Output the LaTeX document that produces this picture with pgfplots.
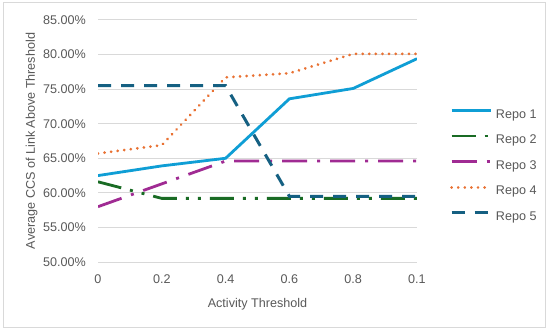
\documentclass[border=0pt]{standalone}
\usepackage{pgfplots}
\pgfplotsset{compat=1.18}
\usepackage{fontspec}
\setmainfont{Liberation Sans}
\definecolor{r1}{HTML}{0F9ED5}
\definecolor{r2}{HTML}{196B24}
\definecolor{r3}{HTML}{A02B93}
\definecolor{r4}{HTML}{E97132}
\definecolor{r5}{HTML}{156082}
\definecolor{txt}{HTML}{595959}
\definecolor{grd}{HTML}{D9D9D9}
\begin{document}
\begin{tikzpicture}
\useasboundingbox (0,0) rectangle (550bp,333bp);
\fill[white] (0,0) rectangle (550bp,333bp);
\draw[grd, line width=1bp] (3bp,5bp) rectangle (545bp,330bp);
\begin{axis}[
  at={(98bp,71bp)}, anchor=south west,
  scale only axis, width=319bp, height=242bp,
  xmin=0, xmax=5, ymin=50, ymax=85,
  xtick={0,1,2,3,4,5},
  xticklabels={0,0.2,0.4,0.6,0.8,0.1},
  ytick={50,55,60,65,70,75,80,85},
  yticklabels={50.00\%,55.00\%,60.00\%,65.00\%,70.00\%,75.00\%,80.00\%,85.00\%},
  axis line style={draw=none},
  major tick length=0pt,
  ymajorgrids, grid style={grd, line width=1bp},
  font=\fontsize{12.6bp}{14bp}\selectfont,
  every tick label/.append style={text=txt},
  yticklabel style={anchor=east, inner sep=0pt, xshift=-12bp},
  xticklabel style={anchor=north, inner sep=0pt, yshift=-12.5bp},
  xlabel={Activity Threshold},
  ylabel={Average CCS of Link Above Threshold},
  xlabel style={at={(axis description cs:0.5,-0.186)}, anchor=base, text=txt},
  ylabel style={at={(axis description cs:-0.198,0.5)}, anchor=base, text=txt},
  legend cell align=left,
  legend image code/.code={\draw[line width=2.8bp,#1] (0bp,4.5bp) -- (39bp,4.5bp);},
  legend style={at={(axis description cs:1.1034,0.3967)}, anchor=west,
    draw=none, fill=none, inner sep=0pt, row sep=14bp, column sep=4bp,
    text=txt,
    nodes={inner sep=0pt, text height=9bp, text depth=2.5bp}},
  every axis plot/.append style={line width=2.8bp},
]
\addplot[r1, solid] coordinates {(0,62.5) (1,63.9) (2,65.0) (3,73.6) (4,75.1) (5,79.4)};
\addlegendentry{Repo 1}
\addplot[r2, dash pattern=on 24bp off 9bp on 3bp off 9bp on 3bp off 9bp] coordinates {(0,61.6) (1,59.2) (2,59.2) (3,59.2) (4,59.2) (5,59.2)};
\addlegendentry{Repo 2}
\addplot[r3, dash pattern=on 25bp off 10bp on 3bp off 10bp] coordinates {(0,58.0) (1,61.3) (2,64.6) (3,64.6) (4,64.6) (5,64.6)};
\addlegendentry{Repo 3}
\addplot[r4, line cap=round, dash pattern=on 0.01bp off 6.6bp, line width=3bp] coordinates {(0,65.7) (1,66.9) (2,76.7) (3,77.3) (4,80.1) (5,80.1)};
\addlegendentry{Repo 4}
\addplot[r5, dash pattern=on 13bp off 10bp, line width=3bp] coordinates {(0,75.5) (1,75.5) (2,75.5) (3,59.5) (4,59.5) (5,59.5)};
\addlegendentry{Repo 5}
\end{axis}
\end{tikzpicture}
\end{document}
